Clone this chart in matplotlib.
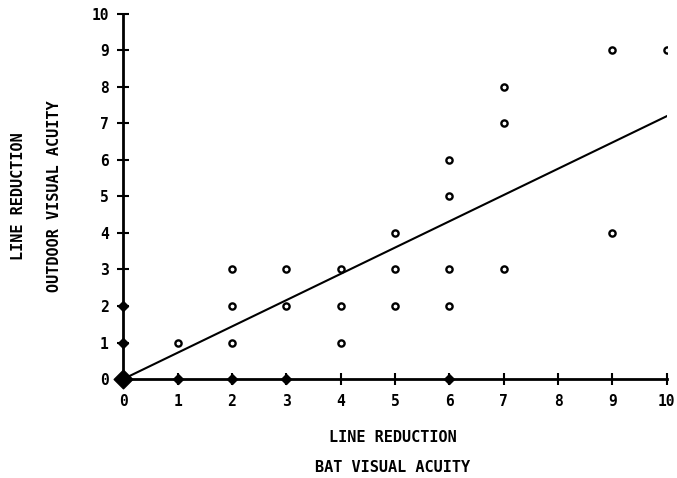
import numpy as np
import matplotlib
matplotlib.use("Agg")
import matplotlib.pyplot as plt

# bat vs outdoor line reduction (open circles)
bat_x = [1, 2, 2, 2, 3, 3, 4, 4, 4, 5, 5, 5, 6, 6, 6, 6, 7, 7, 7, 9, 9, 10]
out_y = [1, 1, 2, 3, 2, 3, 1, 2, 3, 2, 3, 4, 2, 3, 5, 6, 3, 7, 8, 4, 9, 9]

# points lying on the axes (filled diamonds)
axis_x = [0, 0, 1, 2, 3, 6]
axis_y = [1, 2, 0, 0, 0, 0]

# regression line end points
fit_x = [0, 10]
fit_y = [0, 7.2]

ticks = list(range(0, 11))

plt.rcParams['font.family'] = ['DejaVu Sans Mono']
plt.rcParams['font.weight'] = 'bold'

fig = plt.figure(figsize=(6.77, 4.78), dpi=100)
ax = fig.add_axes([0.182, 0.207, 0.803, 0.764])

ax.plot(fit_x, fit_y, color='black', lw=1.5, zorder=2)
ax.scatter(bat_x, out_y, s=20, facecolors='white', edgecolors='black', linewidths=1.7, zorder=3)
ax.scatter(axis_x, axis_y, marker='D', s=26, color='black', zorder=4, clip_on=False)
ax.scatter([0], [0], marker='D', s=90, color='black', zorder=4, clip_on=False)

ax.set_xlim(0, 10)
ax.set_ylim(0, 10)
ax.set_xticks(ticks)
ax.set_yticks(ticks)
ax.tick_params(direction='inout', length=9, width=1.5, labelsize=10.5, pad=6)
for s in ['top', 'right']:
    ax.spines[s].set_visible(False)
for s in ['left', 'bottom']:
    ax.spines[s].set_linewidth(2)

fig.text(0.58, 0.085, 'LINE REDUCTION', ha='center', va='center', fontsize=11, fontweight='bold')
fig.text(0.58, 0.023, 'BAT VISUAL ACUITY', ha='center', va='center', fontsize=11, fontweight='bold')
fig.text(0.027, 0.59, 'LINE REDUCTION', ha='center', va='center', rotation=90, fontsize=11, fontweight='bold')
fig.text(0.081, 0.59, 'OUTDOOR VISUAL ACUITY', ha='center', va='center', rotation=90, fontsize=11, fontweight='bold')

plt.savefig('out.png', dpi=100)
